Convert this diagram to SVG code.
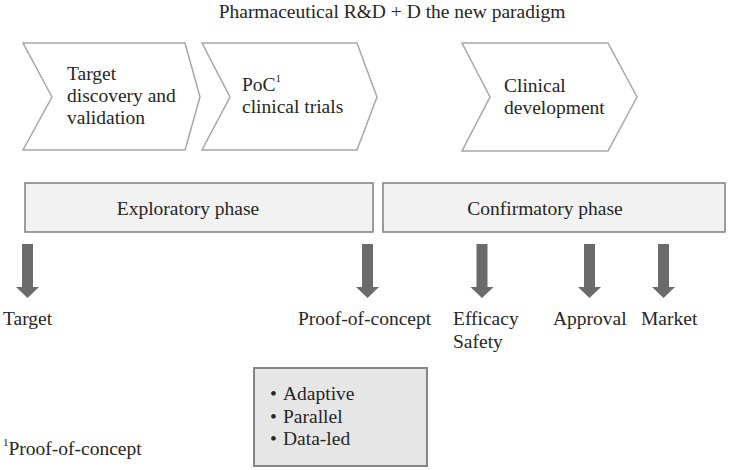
<svg xmlns="http://www.w3.org/2000/svg" width="729" height="470" viewBox="0 0 729 470">
<defs>
<style>
text{font-family:"Liberation Serif","Times New Roman",serif;font-size:19.5px;fill:#262626}
.chev{fill:#fff;stroke:#a6a6a6;stroke-width:1.5}
.phase{fill:#f2f2f2;stroke:#7f7f7f;stroke-width:1.5}
.list{fill:#e6e6e6;stroke:#858585;stroke-width:2}
.arr{fill:#6b6b6b}
.sup{font-size:11px}
</style>
<path id="darr" d="M-5.5,0 h11 v43 h6 l-11.5,11 l-11.5,-11 h6 z"/>
</defs>
<rect width="729" height="470" fill="#fff"/>
<text x="392" y="18" text-anchor="middle">Pharmaceutical R&amp;D + D the new paradigm</text>

<g id="chevron-target">
<polygon class="chev" points="23,43 185,43 200,97 185,150 23,150 52,97"/>
<text x="67" y="80">Target</text>
<text x="67" y="102">discovery and</text>
<text x="67" y="124">validation</text>
</g>
<g id="chevron-poc">
<polygon class="chev" points="202,43 357,43 377,97 357,150 202,150 230,97"/>
<text x="242" y="91">PoC<tspan class="sup" dy="-9">1</tspan></text>
<text x="242" y="113">clinical trials</text>
</g>
<g id="chevron-clinical">
<polygon class="chev" points="462,43 608,43 637,97 608,151 462,151 490,97"/>
<text x="504" y="92">Clinical</text>
<text x="504" y="114">development</text>
</g>

<g id="exploratory">
<rect class="phase" x="25" y="183" width="348" height="49"/>
<text x="188" y="215" text-anchor="middle">Exploratory phase</text>
</g>
<g id="confirmatory">
<rect class="phase" x="383" y="183" width="342" height="49"/>
<text x="545" y="215" text-anchor="middle">Confirmatory phase</text>
</g>

<g id="connectors">
<use href="#darr" class="arr" transform="translate(27.5,244)"/>
<use href="#darr" class="arr" transform="translate(367.5,244)"/>
<use href="#darr" class="arr" transform="translate(482,244)"/>
<use href="#darr" class="arr" transform="translate(589.5,244)"/>
<use href="#darr" class="arr" transform="translate(663.5,244)"/>
</g>

<g id="milestone-target"><text x="3" y="325">Target</text></g>
<g id="milestone-poc"><text x="298" y="325">Proof-of-concept</text></g>
<g id="milestone-efficacy"><text x="453" y="325">Efficacy</text><text x="453" y="348">Safety</text></g>
<g id="milestone-approval"><text x="553" y="325">Approval</text></g>
<g id="milestone-market"><text x="641" y="325">Market</text></g>

<g id="features">
<rect class="list" x="254" y="368" width="173" height="98"/>
<text x="270" y="400">•</text><text x="283" y="400">Adaptive</text>
<text x="270" y="423">•</text><text x="283" y="423">Parallel</text>
<text x="270" y="445">•</text><text x="283" y="445">Data-led</text>
</g>

<g id="footnote">
<text x="3" y="455"><tspan class="sup" dy="-9">1</tspan><tspan dy="9">Proof-of-concept</tspan></text>
</g>
</svg>
